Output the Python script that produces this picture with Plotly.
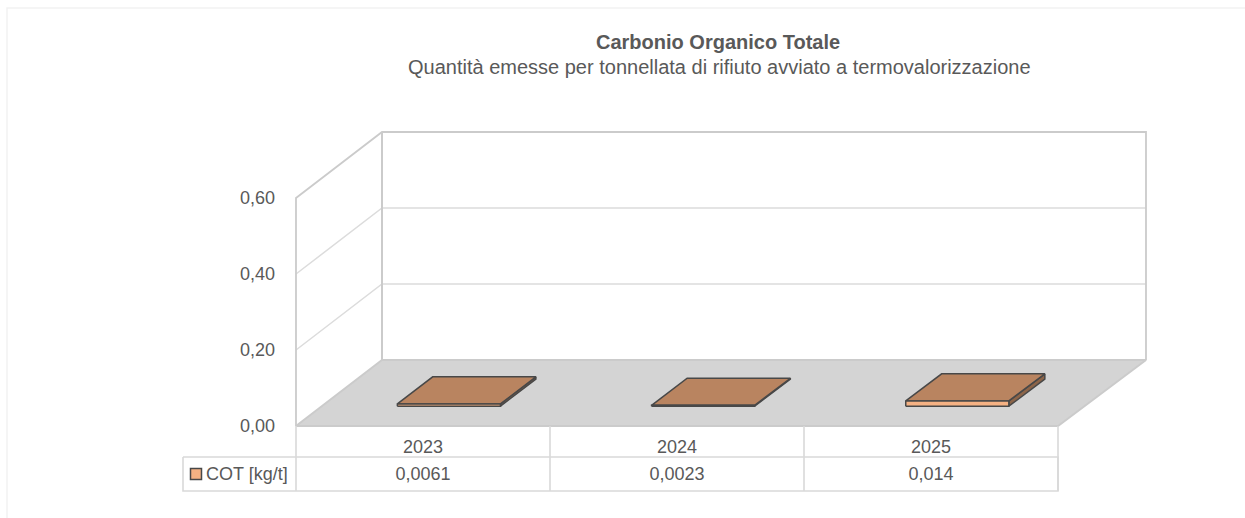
import plotly.graph_objects as go

# ---- data ----
categories = ["2023", "2024", "2025"]
cot_values = [0.0061, 0.0023, 0.014]
cot_labels = ["0,0061", "0,0023", "0,014"]
series_name = "COT [kg/t]"
y_ticks = [0, 0.2, 0.4, 0.6]
title_main = "Carbonio Organico Totale"
title_sub = "Quantità emesse per tonnellata di rifiuto avviato a termovalorizzazione"

# ---- geometry ----
W, H = 1245, 518
X0, X3 = 296, 1058       # front plane, pixels
Y0, Y6 = 426, 198
PX_X = (X3 - X0) / 3     # pixels per category
PX_Y = (Y0 - Y6) / 0.6   # pixels per unit value
DX = 86 / PX_X           # depth shear in data units
DY = 66 / PX_Y
SPREAD = 2 / (X3 - X0)   # back wall is very slightly wider than the front
BAR_W = 103 / PX_X
D_FRONT, D_BACK = 0.30, 0.71

x_range = [-X0 / PX_X, (W - X0) / PX_X]
y_range = [-(H - Y0) / PX_Y, Y0 / PX_Y]
YMAX = 0.6
ROW1 = -(457 - Y0) / PX_Y
ROW2 = -(491 - Y0) / PX_Y
LEFT = -(X0 - 183) / PX_X

WALL = "#cbcbcb"
GRID = "#dcdcdc"
FLOOR = "#d4d4d4"
TABLE = "#d9d9d9"
TEXT = "#595959"
OUT = "#484848"
FRONT = "#f4b183"
TOP = "#b98460"
SIDE = "#8c6448"
FONT = "Liberation Sans, Arial, sans-serif"


def p(x, v, d):
    return x + d * (DX + x * SPREAD), v + d * DY


def poly(points, fill=None, line=None, width=1.0, closed=True):
    pts = [p(*q) for q in points]
    if closed:
        pts.append(pts[0])
    return go.Scatter(
        x=[a for a, _ in pts], y=[b for _, b in pts], mode="lines",
        fill="toself" if fill else None, fillcolor=fill,
        line=dict(color=line or "rgba(0,0,0,0)", width=width, shape="linear", simplify=False),
        hoverinfo="skip", showlegend=False,
    )


fig = go.Figure()

# floor
fig.add_trace(poly([(0, 0, 0), (3, 0, 0), (3, 0, 1), (0, 0, 1)], FLOOR, WALL, 2))
# gridlines
for v in y_ticks[1:-1]:
    fig.add_trace(poly([(0, v, 0), (0, v, 1), (3, v, 1)], None, GRID, 1.5, False))
# walls
fig.add_trace(poly([(0, 0, 0), (0, YMAX, 0), (0, YMAX, 1), (3, YMAX, 1), (3, 0, 1)], None, WALL, 1.8, False))
fig.add_trace(poly([(0, 0, 1), (0, YMAX, 1)], None, WALL, 2, False))

# bars
for i, v in enumerate(cot_values):
    a = i + 0.5 - BAR_W / 2
    b = i + 0.5 + BAR_W / 2
    fig.add_trace(poly([(b, 0, D_FRONT), (b, 0, D_BACK), (b, v, D_BACK), (b, v, D_FRONT)], SIDE, OUT, 1.5))
    fig.add_trace(poly([(a, v, D_FRONT), (b, v, D_FRONT), (b, v, D_BACK), (a, v, D_BACK)], TOP, OUT, 1.5))
    fig.add_trace(poly([(a, 0, D_FRONT), (b, 0, D_FRONT), (b, v, D_FRONT), (a, v, D_FRONT)], FRONT, OUT, 1.5))

# data table lines
fig.add_trace(poly([(0, 0, 0), (0, ROW2, 0)], None, TABLE, 1.6, False))
for k in range(1, 4):
    fig.add_trace(poly([(k, 0, 0), (k, ROW2, 0)], None, TABLE, 1.6, False))
fig.add_trace(poly([(LEFT, ROW1, 0), (3, ROW1, 0), (3, ROW2, 0), (LEFT, ROW2, 0)], None, TABLE, 1.6))

# table values
fig.add_trace(go.Scatter(
    x=[i + 0.5 for i in range(len(categories))], y=[(ROW1 + ROW2) / 2 - 1 / PX_Y] * 3,
    mode="text", text=cot_labels, textposition="middle center",
    textfont=dict(family=FONT, size=18, color=TEXT), hoverinfo="skip", showlegend=False,
))
# legend key
fig.add_trace(go.Scatter(
    x=[LEFT + 13 / PX_X], y=[(ROW1 + ROW2) / 2], mode="markers", name=series_name,
    marker=dict(symbol="square", size=11, color=FRONT, line=dict(color=OUT, width=1.5)),
    hoverinfo="skip", showlegend=False,
))

fig.add_annotation(
    x=LEFT + 21 / PX_X, y=(ROW1 + ROW2) / 2, xref="x", yref="y", xanchor="left", yanchor="middle",
    text=series_name, showarrow=False, font=dict(family=FONT, size=18, color=TEXT),
)
fig.add_annotation(
    x=718 / W, y=1 - 42 / H, xref="paper", yref="paper", xanchor="center", yanchor="middle",
    text=f"<b>{title_main}</b>", showarrow=False, font=dict(family=FONT, size=20, color=TEXT),
)
fig.add_annotation(
    x=719.5 / W, y=1 - 67 / H, xref="paper", yref="paper", xanchor="center", yanchor="middle",
    text=title_sub, showarrow=False, font=dict(family=FONT, size=20, color=TEXT),
)

fig.update_layout(
    width=W, height=H, autosize=False, margin=dict(l=0, r=0, t=0, b=0),
    paper_bgcolor="white", plot_bgcolor="white", showlegend=False, separators=",.",
    font=dict(family=FONT, size=18, color=TEXT),
    xaxis=dict(
        range=x_range, anchor="free", position=(H - Y0) / H, side="bottom",
        tickmode="array", tickvals=[0.5, 1.5, 2.5], ticktext=categories,
        showgrid=False, zeroline=False, showline=False, ticks="outside", ticklen=4,
        tickcolor="rgba(0,0,0,0)", tickfont=dict(family=FONT, size=18, color=TEXT),
    ),
    yaxis=dict(
        range=y_range, anchor="free", position=(X0 - 21) / W, side="left",
        tickmode="array", tickvals=y_ticks, tickformat=".2f",
        showgrid=False, zeroline=False, showline=False, ticks="",
        tickfont=dict(family=FONT, size=18, color=TEXT),
    ),
    shapes=[dict(type="rect", xref="paper", yref="paper", x0=7 / W, x1=1.2, y0=-0.2, y1=1 - 8 / H,
                 line=dict(color="#f2f2f2", width=1.5), fillcolor="rgba(0,0,0,0)", layer="below")],
)

fig.write_html("out.html", post_script="document.body.style.margin='0';", config={"displayModeBar": False})
